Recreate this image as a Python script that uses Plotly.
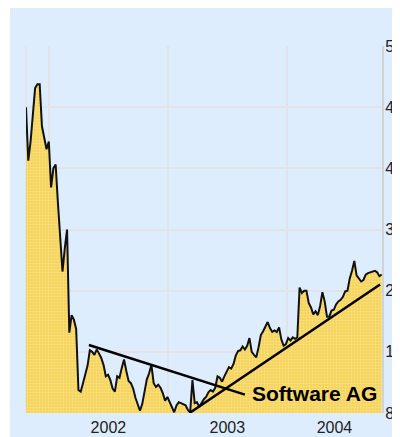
import pandas as pd
import plotly.graph_objects as go

# weekly closing prices (EUR)
START_DATE = "2001-10-22"
PRICES = [
    48.0, 41.0, 43.5, 47.5, 50.5, 51.0, 51.0, 45.5, 44.0, 42.5,
    43.5, 37.5, 40.0, 40.5, 35.5, 30.5, 26.5, 29.5, 32.0, 18.5,
    20.8, 20.2, 19.0, 11.0, 10.8, 11.9, 13.0, 14.2, 16.2, 16.0,
    15.6, 16.3, 15.8, 15.2, 14.3, 12.8, 13.0, 12.3, 11.2, 10.8,
    12.8, 12.6, 13.9, 15.0, 13.5, 12.2, 11.9, 11.2, 10.0, 9.0,
    8.3, 9.2, 11.0, 12.4, 13.2, 14.3, 11.9, 11.4, 11.7, 11.3,
    10.6, 9.6, 10.1, 9.4, 8.8, 8.1, 9.0, 9.4, 9.3, 9.2,
    9.0, 8.4, 8.1, 12.3, 9.3, 9.4, 8.8, 9.3, 9.8, 10.1,
    10.7, 11.0, 10.8, 11.3, 12.8, 12.6, 12.1, 12.8, 13.5, 14.0,
    13.8, 14.4, 15.5, 16.1, 16.2, 16.7, 16.3, 16.8, 17.8, 16.0,
    15.6, 15.3, 16.6, 18.2, 18.7, 19.4, 19.9, 19.1, 18.6, 18.8,
    18.6, 19.2, 17.6, 16.8, 17.0, 17.8, 17.5, 17.9, 17.7, 17.9,
    24.4, 23.7, 24.0, 24.0, 22.4, 21.8, 20.9, 21.3, 20.8, 22.0,
    23.8, 22.6, 20.6, 20.6, 21.4, 21.5, 22.2, 22.6, 22.8, 23.2,
    23.9, 24.0, 25.6, 26.6, 27.9, 26.0, 25.6, 25.2, 25.4, 26.1,
    26.3, 26.4, 26.4, 26.6, 26.4, 25.9, 26.1,
]

# trend lines (start/end dates and prices)
DOWN_TREND_X = ["2002-05-03", "2003-08-25"]
DOWN_TREND_Y = [16.9, 10.4]
UP_TREND_X = ["2003-03-08", "2004-10-13"]
UP_TREND_Y = [8.0, 24.8]

YEAR_LINES = ["2002-01-01", "2003-01-01", "2004-01-01"]
YEAR_LABEL_POS = ["2002-07-02", "2003-07-02", "2004-05-26"]
YEAR_LABELS = ["2002", "2003", "2004"]
Y_TICKS = [8, 16, 24, 32, 40, 48, 56]

X_RANGE = ["2001-10-22", "2004-10-19"]

BG = "#deedfd"
GRID = "#e1e3e6"
FONT = "Arial, Liberation Sans, sans-serif"

dates = pd.date_range(START_DATE, periods=len(PRICES), freq="7D")

fig = go.Figure()

fig.add_trace(
    go.Scatter(
        x=dates,
        y=PRICES,
        mode="lines",
        line=dict(color="#111111", width=2),
        fill="tozeroy",
        fillcolor="#f6d862",
        fillpattern=dict(
            shape=".",
            bgcolor="#f6d35a",
            fgcolor="#fcefb6",
            size=3,
            solidity=0.35,
        ),
        hoverinfo="skip",
    )
)

fig.add_trace(
    go.Scatter(
        x=DOWN_TREND_X,
        y=DOWN_TREND_Y,
        mode="lines",
        line=dict(color="#000000", width=2.5),
    )
)
fig.add_trace(
    go.Scatter(
        x=UP_TREND_X,
        y=UP_TREND_Y,
        mode="lines",
        line=dict(color="#000000", width=2.5),
    )
)

# light blue backdrop that leaves a thin white strip top and left
fig.add_shape(
    type="rect",
    xref="paper",
    yref="paper",
    x0=-0.045,
    x1=1.08,
    y0=-0.07,
    y1=1.11,
    fillcolor=BG,
    line=dict(width=0),
    layer="below",
)
# left frame line
fig.add_shape(
    type="line",
    xref="paper",
    yref="paper",
    x0=0,
    x1=0,
    y0=0,
    y1=1,
    line=dict(color=GRID, width=1.5),
    layer="below",
)

fig.add_annotation(
    text="<b>Software AG</b>",
    xref="paper",
    yref="paper",
    x=0.809,
    y=0.052,
    xanchor="center",
    yanchor="middle",
    showarrow=False,
    font=dict(family=FONT, size=21, color="#000000"),
)

# page body has an 8px margin; the right edge runs past the window on purpose
fig.update_layout(
    width=400,
    height=429,
    margin=dict(l=18, r=26, t=38, b=24),
    paper_bgcolor="#ffffff",
    plot_bgcolor="rgba(0,0,0,0)",
    showlegend=False,
    font=dict(family=FONT, size=16, color="#222222"),
)

fig.update_xaxes(
    type="date",
    range=X_RANGE,
    tickmode="array",
    tickvals=YEAR_LABEL_POS,
    ticktext=YEAR_LABELS,
    showgrid=False,
    ticks="",
    zeroline=False,
    automargin=False,
    ticklabelstandoff=3,
    minor=dict(tickvals=YEAR_LINES, showgrid=True, gridcolor=GRID, gridwidth=1.5),
)

fig.update_yaxes(
    side="right",
    range=[8, 56],
    tickmode="array",
    tickvals=Y_TICKS,
    showgrid=True,
    gridcolor=GRID,
    gridwidth=1.5,
    showline=True,
    linecolor="#d3d3d3",
    linewidth=2,
    ticks="",
    zeroline=False,
    automargin=False,
    ticklabelstandoff=-2,
)

fig.write_html("out.html")
